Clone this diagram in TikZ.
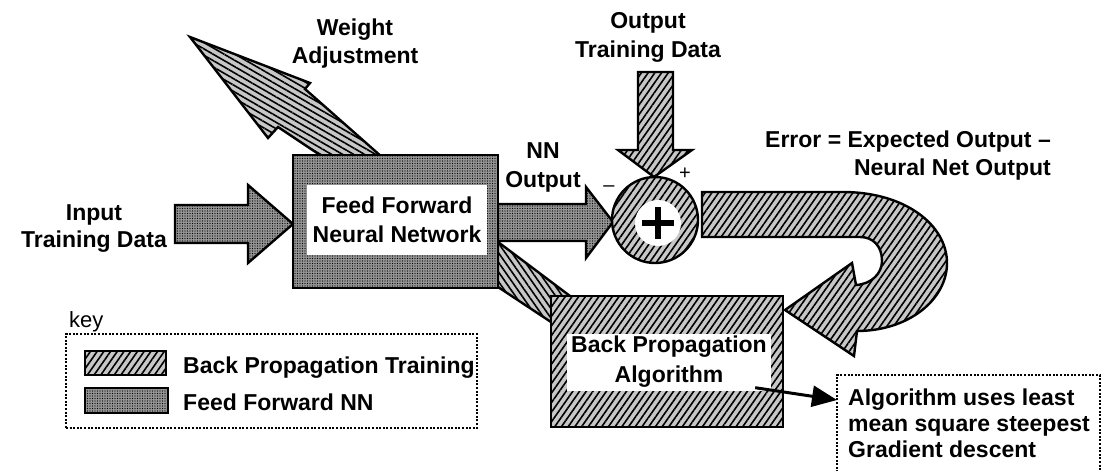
\documentclass[tikz,border=0pt]{standalone}
\usepackage{fontspec}
\setmainfont{Liberation Sans}
\usetikzlibrary{patterns.meta,arrows.meta,calc}

\definecolor{hatchbg}{gray}{0.78}
\definecolor{stipbg}{gray}{0.58}

\begin{document}
\begin{tikzpicture}[x=1pt,y=-1pt,
  outline/.style={draw=black,line width=2.4pt},
  hatch/.style={outline,preaction={fill=hatchbg},
    pattern={Lines[angle=#1,distance=5.5pt,line width=1.6pt]},pattern color=black},
  hatch/.default=55,
  stipple/.style={outline,preaction={fill=stipbg},
    pattern={Dots[distance=2.5pt,radius=0.55pt]},pattern color=black},
  lbl/.style={font=\fontsize{23}{29}\selectfont\bfseries,align=center,inner sep=0pt},
  whitelbl/.style={lbl,fill=white},
  dotframe/.style={draw=black,line width=2.2pt,dash pattern=on 2pt off 1.6pt},
  pointer/.style={line width=3pt,-{Triangle[length=25pt,width=21pt]}}
]
\useasboundingbox (0,0) rectangle (1103,471);

% ---------- free labels (anchored on the baseline of their last line) ----------
\node[lbl,anchor=base,font=\fontsize{23}{27}\selectfont\bfseries] (inp) at (94,247) {Input\\Training Data};
\node[lbl,anchor=base,font=\fontsize{23}{28}\selectfont\bfseries] (wadj) at (355,63) {Weight\\Adjustment};
\node[lbl,anchor=base] (otd) at (648,57) {Output\\Training Data};
\node[lbl,anchor=base] (nno) at (543,187) {NN\\Output};
\node[lbl,anchor=base east,align=right,font=\fontsize{23}{28}\selectfont\bfseries] (err) at (1051,175)
  {Error = Expected Output –\\Neural Net Output};

% ---------- band from the network to the algorithm ----------
\path[hatch=-55] (498,242) -- (570,296) -- (551,322) -- (498,287) -- cycle;

% ---------- weight adjustment arrow ----------
\path[hatch=-30] (335,165) -- (278,127) -- (268,138) -- (190,37) -- (310,83)
  -- (305,89) -- (391,165) -- cycle;

% ---------- input and NN output arrows ----------
\path[stipple] (175,205) -- (248,205) -- (248,185) -- (293,224) -- (248,263)
  -- (248,243) -- (175,243) -- cycle;
\path[stipple] (490,204) -- (586,204) -- (586,187) -- (613,222) -- (586,258)
  -- (586,241) -- (490,241) -- cycle;

% ---------- feed forward network ----------
\node[stipple,minimum width=205pt,minimum height=133pt,inner sep=0pt] (ff) at (395.5,221.5) {};
\node[whitelbl,minimum width=180pt,minimum height=70pt] (fftext) at (397,220)
  {Feed Forward\\Neural Network};

% ---------- back propagation algorithm ----------
\node[hatch,minimum width=232pt,minimum height=131pt,inner sep=0pt] (bp) at (667,361.5) {};
\node[whitelbl,minimum width=204pt,minimum height=57pt,font=\fontsize{23}{30}\selectfont\bfseries]
  (bptext) at (669,362) {Back Propagation\\Algorithm};

% ---------- output training data arrow ----------
\path[hatch] (638,72) -- (673,72) -- (673,150) -- (692,150) -- (654,177)
  -- (618,150) -- (638,150) -- cycle;

% ---------- error feedback U-turn ----------
\path[hatch] (702,192) -- (843,192)
  .. controls (905,192) and (947,225) .. (947,263)
  .. controls (947,300) and (908,331) .. (857,331)
  -- (854,356) -- (785,310) -- (852,263) -- (856,285)
  .. controls (872,284) and (882,273) .. (882,261)
  .. controls (882,246) and (873,237) .. (860,237)
  -- (702,237) -- cycle;

% ---------- summing junction ----------
\node[hatch,circle,minimum size=86pt,inner sep=0pt] (sum) at (655,220) {};
\node[circle,fill=white,minimum size=46pt,inner sep=0pt] (sumin) at (658,223) {};
\draw[line width=6.5pt] ($(sumin.center)+(-16,0)$) -- ($(sumin.center)+(16,0)$);
\draw[line width=6.5pt] ($(sumin.center)+(0,-16)$) -- ($(sumin.center)+(0,16)$);
\node[font=\fontsize{20}{20}\selectfont,inner sep=0pt] (minus) at (609,189) {–};
\node[font=\fontsize{20}{20}\selectfont,inner sep=0pt] (plus) at (685,174) {+};

% ---------- algorithm note ----------
\coordinate (noteNW) at (837,375);
\draw[dotframe] (837,476) |- (1100,375) -- (1100,476);
\node[lbl,align=left,anchor=base west,font=\fontsize{23}{26}\selectfont\bfseries] (note)
  at (848,457) {Algorithm uses least\\mean square steepest\\Gradient descent};
\draw[pointer] ($(bptext.south east)+(-16,-3)$) -- ($(noteNW)+(0,25)$);

% ---------- key ----------
\node[font=\fontsize{22}{26}\selectfont,inner sep=0pt,anchor=base west] (keylbl) at (69,327) {key};
\node[dotframe,minimum width=411pt,minimum height=94pt,inner sep=0pt] (keybox) at (271.5,381) {};
\node[hatch,minimum width=81pt,minimum height=24pt,inner sep=0pt] (swbp) at (125.5,363) {};
\node[stipple,minimum width=83pt,minimum height=25pt,inner sep=0pt] (swff) at (126.5,400.5) {};
\node[lbl,anchor=base west] (keybp) at (183,373) {Back Propagation Training};
\node[lbl,anchor=base west] (keyff) at (183,410) {Feed Forward NN};
\end{tikzpicture}
\end{document}
